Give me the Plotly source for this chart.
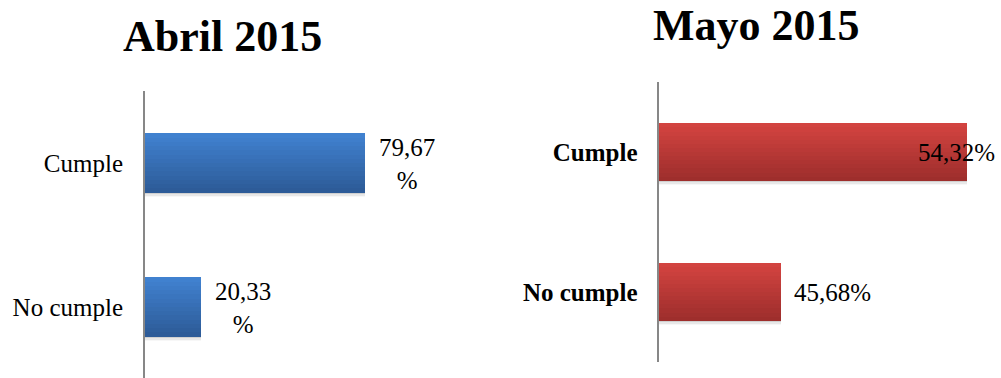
import plotly.graph_objects as go

# --- data -------------------------------------------------------------
categories = ["Cumple", "No cumple"]
abril_values = [79.67, 20.33]
mayo_values = [54.32, 45.68]
abril_labels = ["79,67<br>%", "20,33<br>%"]
mayo_labels = ["54,32%", "45,68%"]
panel_titles = ["Abril 2015", "Mayo 2015"]

# --- style ------------------------------------------------------------
W, H = 1001, 378
SERIF = "Liberation Serif"
TEXT_SIZE = 25
BLUE_TOP, BLUE_BOTTOM = (64, 129, 207), (45, 91, 152)
RED_TOP, RED_BOTTOM = (210, 67, 64), (158, 46, 44)
BAR_WIDTH = 0.41
N_BANDS = 14

ypos = [1, 0]  # Cumple on top, No cumple below


def lerp(c0, c1, t):
    return "rgb(%d,%d,%d)" % tuple(round(a + (b - a) * t) for a, b in zip(c0, c1))


fig = go.Figure()


def add_gradient_bars(values, base, top_rgb, bottom_rgb, xa, ya):
    # soft drop shadow under each bar
    for k, alpha in enumerate([0.10, 0.06, 0.03]):
        fig.add_trace(go.Bar(
            x=[v - base for v in values], y=ypos, base=base, orientation="h",
            width=0.03, offset=-BAR_WIDTH / 2 - 0.01 - k * 0.012,
            marker=dict(color="rgba(0,0,0,%.2f)" % alpha, line=dict(width=0)),
            xaxis=xa, yaxis=ya, hoverinfo="skip", showlegend=False))
    # vertical colour gradient built from stacked horizontal bands
    band = BAR_WIDTH / N_BANDS
    for i in range(N_BANDS):
        t = i / (N_BANDS - 1)
        h = band * (1.6 if i < N_BANDS - 1 else 1.0)
        fig.add_trace(go.Bar(
            x=[v - base for v in values], y=ypos, base=base, orientation="h",
            width=h, offset=-BAR_WIDTH / 2 + i * band,
            marker=dict(color=lerp(bottom_rgb, top_rgb, t), line=dict(width=0)),
            xaxis=xa, yaxis=ya, hoverinfo="skip", showlegend=False))


add_gradient_bars(abril_values, 0, BLUE_TOP, BLUE_BOTTOM, "x", "y")
add_gradient_bars(mayo_values, 40, RED_TOP, RED_BOTTOM, "x2", "y2")

AXIS_LINE = dict(showline=True, linecolor="#878787", linewidth=2,
                 showgrid=False, zeroline=False, ticks="",
                 tickvals=ypos, ticktext=categories)

fig.update_layout(
    width=W, height=H, margin=dict(l=0, r=0, t=0, b=0),
    paper_bgcolor="white", plot_bgcolor="white",
    barmode="overlay", bargap=0, showlegend=False,
    xaxis=dict(domain=[145 / W, 421 / W], range=[0, 100], visible=False,
               fixedrange=True),
    yaxis=dict(domain=[0, (H - 91) / H], range=[-0.493, 1.5], anchor="x",
               ticklabelstandoff=15,
               tickfont=dict(family=SERIF, size=TEXT_SIZE, color="black"),
               **AXIS_LINE),
    xaxis2=dict(domain=[658.5 / W, 1000.4 / W], range=[40, 55.9],
                visible=False, fixedrange=True, anchor="y2"),
    yaxis2=dict(domain=[(H - 362) / H, (H - 82) / H], range=[-0.5, 1.5],
                anchor="x2", ticklabelstandoff=14,
                tickfont=dict(family=SERIF, size=TEXT_SIZE, color="black",
                              weight="bold"),
                **AXIS_LINE),
)

# value labels (wrapped in April, single line in May)
for v, y, txt in zip(abril_values, ypos, abril_labels):
    fig.add_annotation(x=v, y=y, xref="x", yref="y", text=txt, showarrow=False,
                       xanchor="left", yanchor="middle", xshift=12, yshift=-1,
                       align="center",
                       font=dict(family=SERIF, size=TEXT_SIZE, color="black"))

for v, y, txt in zip(mayo_values, ypos, mayo_labels):
    # a label that would run past the panel edge is pulled back over the bar
    overflow = v > 52
    fig.add_annotation(x=v, y=y, xref="x2", yref="y2", text=txt,
                       showarrow=False,
                       xanchor="right" if overflow else "left",
                       yanchor="middle", xshift=31 if overflow else 11,
                       font=dict(family=SERIF, size=TEXT_SIZE, color="black"))

# panel titles
fig.add_annotation(x=222 / W, y=1 - 36 / H, xref="paper", yref="paper",
                   text=panel_titles[0], showarrow=False, xanchor="center",
                   yanchor="middle",
                   font=dict(family=SERIF, size=44, color="black", weight="bold"))
fig.add_annotation(x=756 / W, y=1 - 25 / H, xref="paper", yref="paper",
                   text=panel_titles[1], showarrow=False, xanchor="center",
                   yanchor="middle",
                   font=dict(family=SERIF, size=44, color="black", weight="bold"))

fig.write_html("out.html", config={"displayModeBar": False})
